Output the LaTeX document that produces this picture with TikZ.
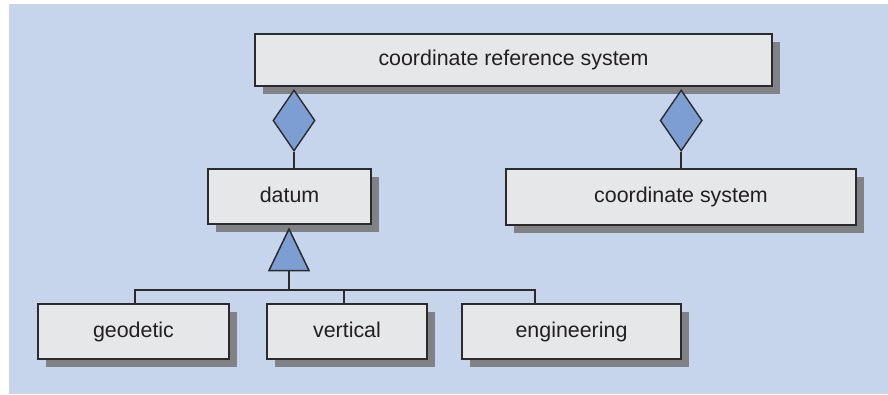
\documentclass[tikz,border=0pt]{standalone}
\usepackage{fontspec}
\setmainfont{Liberation Sans}
\usetikzlibrary{shapes.geometric,shadows}
\definecolor{bgblue}{HTML}{C6D4EC}
\definecolor{boxfill}{HTML}{E6E7E9}
\definecolor{shadowgray}{HTML}{808285}
\definecolor{markblue}{HTML}{7C9ED2}
\definecolor{linedark}{HTML}{2B2B2B}
\definecolor{txt}{HTML}{231F20}
\begin{document}
\begin{tikzpicture}[x=1pt,y=-1pt,
  cls/.style={draw=linedark, line width=1.4pt, fill=boxfill, inner sep=0pt,
    text=txt, font=\fontsize{21.4}{24}\selectfont, text height=15pt, text depth=4pt,
    drop shadow={shadow xshift=8pt, shadow yshift=-8pt, fill=shadowgray, opacity=1}},
  agg/.style={diamond, draw=linedark, line width=1.4pt, fill=markblue, inner sep=0pt,
    minimum width=42pt, minimum height=61pt},
  conn/.style={draw=linedark, line width=1.5pt}]
\useasboundingbox (0,0) rectangle (888,394);
\fill[bgblue] (9,4) rectangle (888,394);

\node[cls, minimum width=517pt, minimum height=52pt] (crs) at (513.5,60) {coordinate reference system};
\node[cls, minimum width=163pt, minimum height=55pt] (datum) at (289.5,196.5) {datum};
\node[cls, minimum width=350pt, minimum height=56pt] (cs) at (681,197) {coordinate system};
\node[cls, minimum width=191pt, minimum height=55pt] (geo) at (133.5,331.5) {geodetic};
\node[cls, minimum width=160pt, minimum height=55pt] (vert) at (347,331.5) {vertical};
\node[cls, minimum width=219pt, minimum height=55pt] (eng) at (571.5,331.5) {engineering};

\node[agg] (d1) at (294,120.5) {};
\node[agg] (d2) at (681.2,120.5) {};
\draw[conn] (d1.south) -- (d1.south |- datum.north);
\draw[conn] (d2.south) -- (d2.south |- cs.north);

% generalization triangle
\coordinate (triapex) at (289,229);
\coordinate (tribase) at (289,270.5);
\draw[conn, fill=markblue, line join=miter] (triapex) -- (309,270.5) -- (269,270.5) -- cycle;
\coordinate (bus) at (289,290);
\coordinate (geotop) at ([xshift=1.5pt]geo.north);
\coordinate (verttop) at ([xshift=-3pt]vert.north);
\coordinate (engtop) at ([xshift=-36.5pt]eng.north);
\draw[conn] (tribase) -- (bus);
\draw[conn] (geotop) -- (geotop |- bus) -- (engtop |- bus) -- (engtop);
\draw[conn] (verttop) -- (verttop |- bus);
\end{tikzpicture}
\end{document}
